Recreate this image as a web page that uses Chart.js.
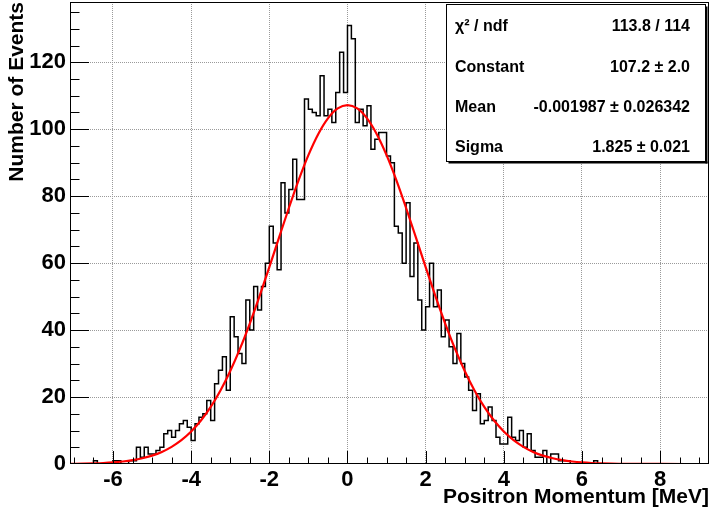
<!DOCTYPE html>
<html><head><meta charset="utf-8">
<script src="https://cdn.jsdelivr.net/npm/chart.js@4.4.0/dist/chart.umd.min.js"></script>
<style>html,body{margin:0;padding:0;background:#fff;overflow:hidden}#wrap{width:712px;height:515px;position:relative}</style>
</head><body><div id="wrap"><canvas id="c" width="712" height="515"></canvas></div>
<script>
// ---- data ----
const binLowEdge = -7.1;   // low edge of first bin
const binWidth = 0.1;
const counts = [
  0,                                         // -7.1
  0,0,0,0,0,0,1,0,0,0,                       // -7.0 .. -6.1
  0,1,1,0,0,1,1,5,2,5,                       // -6.0 .. -5.1
  3,3,4,5,9,10,8,10,12,13,                   // -5.0 .. -4.1
  11,7,12,14,15,19,13,24,28,32,              // -4.0 .. -3.1
  22,44,38,33,30,49,40,53,46,53,             // -3.0 .. -2.1
  60,71,66,58,84,75,82,91,79,79,             // -2.0 .. -1.1
  109,106,105,104,116,104,106,102,111,123,   // -1.0 .. -0.1
  111,131,127,102,106,101,107,94,97,99,      //  0.0 ..  0.9
  99,92,90,71,69,60,78,56,66,49,             //  1.0 ..  1.9
  40,47,60,47,52,38,43,35,30,39,             //  2.0 ..  2.9
  30,26,22,16,21,12,13,17,13,8,              //  3.0 ..  3.9
  6,6,14,8,7,10,5,9,4,2,                     //  4.0 ..  4.9
  2,4,0,3,3,1,1,1,0,0,                       //  5.0 ..  5.9
  0,0,0,0,1,0,0,0,0,0,                       //  6.0 ..  6.9
  0,0,0,0,0,0,0,0,0,0,                       //  7.0 ..  7.9
  0,0,0,0,0,0,0,0,0,0,                       //  8.0 ..  8.9
  0,0,0                                      //  9.0 ..  9.2
];
// Gaussian fit curve, sampled from the drawn red line
const fitX = [-7.1,-6.75,-6.5,-6.25,-6,-5.75,-5.5,-5.25,-5,-4.75,-4.5,-4.25,-4,-3.75,-3.5,-3.25,-3,-2.75,-2.5,-2.25,-2,-1.75,-1.5,-1.25,-1,-0.75,-0.5,-0.25,0,0.25,0.5,0.75,1,1.25,1.5,1.75,2,2.25,2.5,2.75,3,3.25,3.5,3.75,4,4.25,4.5,4.75,5,5.25,5.5,5.75,6,6.25,6.5,6.75,7,7.5,8,9.25];
const fitY = [0.05,0.11,0.19,0.30,0.48,0.75,1.14,1.71,2.51,3.62,5.13,7.12,9.71,12.98,17.04,21.96,27.76,34.45,41.95,50.13,58.81,67.69,76.47,84.79,92.26,98.52,103.25,106.2,107.2,106.2,103.25,98.52,92.26,84.79,76.47,67.69,58.81,50.13,41.95,34.45,27.76,21.96,17.04,12.98,9.71,7.12,5.13,3.62,2.51,1.71,1.14,0.75,0.48,0.30,0.19,0.11,0.07,0.02,0.01,0];
const xTickValues = [-6,-4,-2,0,2,4,6,8];
const yTickValues = [0,20,40,60,80,100,120];
const xTitle = 'Positron Momentum [MeV]';
const yTitle = 'Number of Events';
const statLabels = ['\u03C7\u00B2 / ndf','Constant','Mean','Sigma'];
const statValues = ['113.8 / 114','107.2 \u00B1 2.0','-0.001987 \u00B1 0.026342','1.825 \u00B1 0.021'];

// ---- build datasets ----
const histPoints = counts.map((c, i) => ({x: binLowEdge + i * binWidth, y: c}));
histPoints.push({x: binLowEdge + counts.length * binWidth, y: counts[counts.length - 1]});
const fitPoints = fitX.map((x, i) => ({x: x, y: fitY[i]}));

const FONT = '"Liberation Sans", Arial, Helvetica, sans-serif';

const rootDecor = {
  id: 'rootDecor',
  afterDatasetsDraw(chart) {
    const {ctx, chartArea: a, scales: {x, y}} = chart;
    ctx.save();
    ctx.strokeStyle = '#000';
    ctx.lineWidth = 1;
    ctx.beginPath();
    for (let k = -14; k <= 18; k++) {
      const v = k * 0.5;
      const px = Math.round(x.getPixelForValue(v)) + 0.5;
      if (px <= a.left + 1 || px >= a.right - 1) continue;
      const len = (k % 4 === 0) ? 13 : 6.5;
      ctx.moveTo(px, a.bottom); ctx.lineTo(px, a.bottom - len);
    }
    for (let v = 5; v < 138; v += 5) {
      const py = Math.round(y.getPixelForValue(v)) + 0.5;
      const len = (v % 20 === 0) ? 19 : 9.5;
      ctx.moveTo(a.left, py); ctx.lineTo(a.left + len, py);
    }
    ctx.stroke();
    ctx.strokeRect(a.left + 0.5, a.top + 0.5, a.right - a.left - 1, a.bottom - a.top - 1);

    // stats box
    const bx = 446.5, by = 4.5, bw = 259, bh = 157;
    ctx.fillStyle = '#fff';
    ctx.fillRect(bx, by, bw, bh);
    ctx.strokeRect(bx, by, bw, bh);
    ctx.fillStyle = '#000';
    ctx.fillRect(bx + bw, by + 2, 2, bh);
    ctx.fillRect(bx + 2, by + bh, bw, 2);
    ctx.font = 'bold 16px ' + FONT;
    ctx.textBaseline = 'alphabetic';
    const base = [31, 72, 112, 152];
    statLabels.forEach((t, i) => {
      ctx.textAlign = 'left'; ctx.fillText(t, 455, base[i]);
      ctx.textAlign = 'right'; ctx.fillText(statValues[i], 690, base[i]);
    });
    ctx.restore();
  }
};

new Chart(document.getElementById('c'), {
  type: 'line',
  data: {
    datasets: [
      {data: fitPoints, borderColor: '#ff0000', borderWidth: 2.2, pointRadius: 0, fill: false,
       cubicInterpolationMode: 'monotone', order: 0},
      {data: histPoints, borderColor: '#000', borderWidth: 1.5, pointRadius: 0, fill: false,
       stepped: 'after', order: 1}
    ]
  },
  options: {
    responsive: false, animation: false, devicePixelRatio: 1,
    layout: {padding: {top: 2, right: 3, left: 0, bottom: 0}},
    plugins: {legend: {display: false}, tooltip: {enabled: false}},
    scales: {
      x: {
        type: 'linear', min: -7.1, max: 9.25,
        afterBuildTicks: s => { s.ticks = xTickValues.map(v => ({value: v})); },
        afterFit: s => { s.height = 51; s.paddingLeft = 0; s.paddingRight = 0; },
        ticks: {font: {family: FONT, size: 22, weight: 'bold'}, color: '#000', padding: 3,
                maxRotation: 0, autoSkip: false, callback: v => String(v)},
        grid: {color: '#9a9a9a', lineWidth: 1, drawTicks: false},
        border: {display: false, dash: [1, 1]},
        title: {display: true, text: xTitle, align: 'end', color: '#000',
                font: {family: FONT, size: 21, weight: 'bold'}, padding: {top: 0, bottom: 5}}
      },
      y: {
        type: 'linear', min: 0, max: 138,
        afterBuildTicks: s => { s.ticks = yTickValues.map(v => ({value: v})); },
        afterFit: s => { s.width = 70; s.paddingTop = 0; s.paddingBottom = 0; },
        ticks: {font: {family: FONT, size: 22, weight: 'bold'}, color: '#000', padding: 4,
                autoSkip: false, callback: v => String(v)},
        grid: {color: ctx => ctx.tick && ctx.tick.value === 0 ? 'rgba(0,0,0,0)' : '#9a9a9a',
               lineWidth: 1, drawTicks: false},
        border: {display: false, dash: [1, 1]},
        title: {display: true, text: yTitle, align: 'end', color: '#000',
                font: {family: FONT, size: 21, weight: 'bold'}, padding: {top: 5, bottom: 0}}
      }
    }
  },
  plugins: [rootDecor]
});
</script>
</body></html>
